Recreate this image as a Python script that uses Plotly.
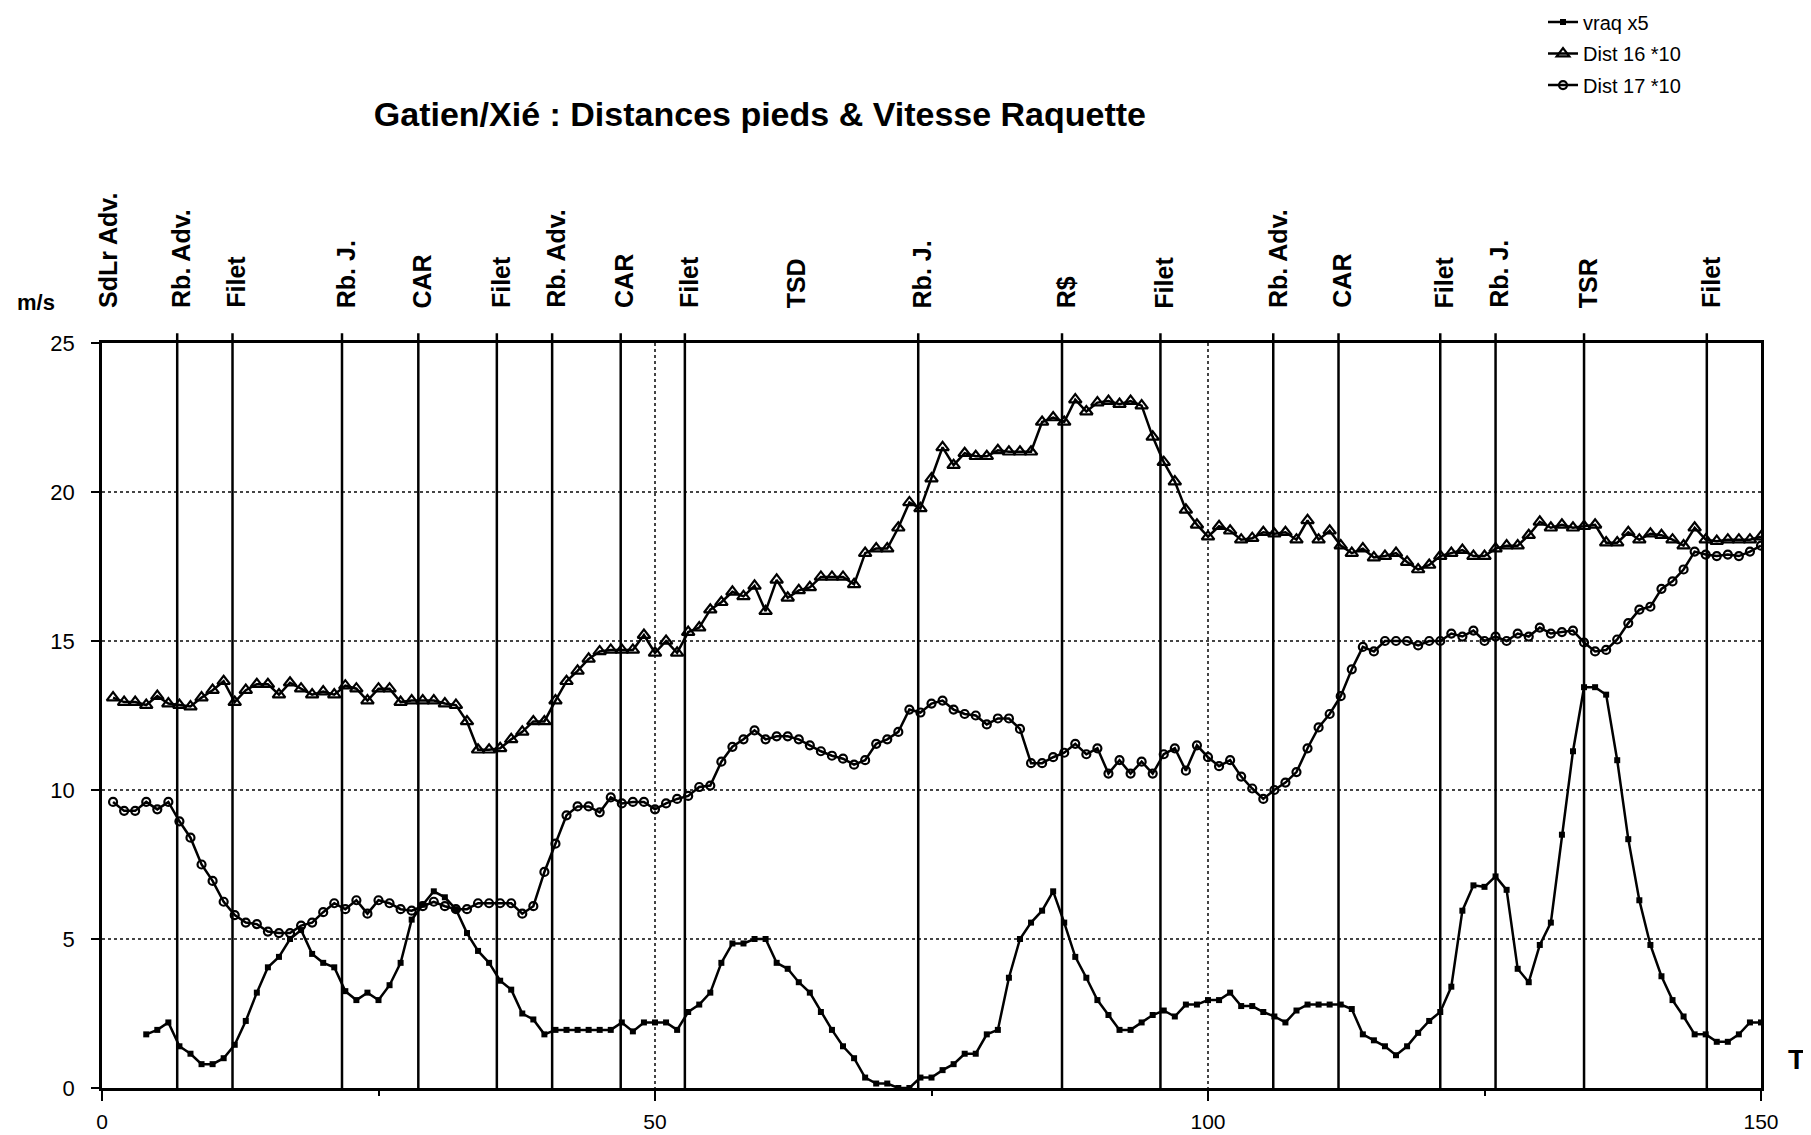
import plotly.graph_objects as go

# temps (abscisse)
t_dist = list(range(1, 151))
t_vraq = list(range(4, 151))

# vitesse raquette x5
vraq = [1.8, 1.95, 2.2, 1.4, 1.15, 0.8, 0.8, 1.0, 1.45, 2.25,
        3.2, 4.05, 4.4, 5.0, 5.3, 4.5, 4.2, 4.05, 3.25, 2.95,
        3.2, 2.95, 3.45, 4.2, 5.65, 6.15, 6.6, 6.4, 6.0, 5.2,
        4.6, 4.2, 3.6, 3.3, 2.5, 2.3, 1.8, 1.95, 1.95, 1.95,
        1.95, 1.95, 1.95, 2.2, 1.9, 2.2, 2.2, 2.2, 1.95, 2.55,
        2.8, 3.2, 4.2, 4.85, 4.85, 5.0, 5.0, 4.2, 4.0, 3.55,
        3.2, 2.55, 1.95, 1.4, 1.0, 0.35, 0.15, 0.15, 0.0, 0.0,
        0.35, 0.35, 0.6, 0.8, 1.15, 1.15, 1.8, 1.95, 3.7, 5.0,
        5.55, 5.95, 6.6, 5.55, 4.4, 3.7, 2.95, 2.45, 1.95, 1.95,
        2.2, 2.45, 2.6, 2.4, 2.8, 2.8, 2.95, 2.95, 3.2, 2.75,
        2.75, 2.55, 2.4, 2.2, 2.6, 2.8, 2.8, 2.8, 2.8, 2.65,
        1.8, 1.6, 1.4, 1.1, 1.4, 1.85, 2.25, 2.55, 3.4, 5.95,
        6.8, 6.75, 7.1, 6.65, 4.0, 3.55, 4.8, 5.55, 8.5, 11.3,
        13.45, 13.45, 13.2, 11.0, 8.35, 6.3, 4.8, 3.75, 2.95, 2.4,
        1.8, 1.8, 1.55, 1.55, 1.8, 2.2, 2.2]

# distance pieds 16 (x10)
dist16 = [13.1, 12.95, 12.95, 12.85, 13.15, 12.9, 12.85, 12.8, 13.1, 13.35,
          13.65, 12.95, 13.35, 13.55, 13.55, 13.2, 13.6, 13.4, 13.2, 13.3,
          13.2, 13.5, 13.4, 13.0, 13.4, 13.4, 12.95, 13.0, 13.0, 13.0,
          12.9, 12.85, 12.3, 11.35, 11.35, 11.4, 11.7, 11.95, 12.3, 12.3,
          13.0, 13.65, 14.0, 14.4, 14.65, 14.7, 14.7, 14.7, 15.2, 14.6,
          15.0, 14.6, 15.3, 15.45, 16.05, 16.3, 16.65, 16.5, 16.85, 16.0,
          17.05, 16.45, 16.7, 16.8, 17.15, 17.15, 17.15, 16.9, 17.95, 18.1,
          18.1, 18.8, 19.65, 19.45, 20.45, 21.5, 20.9, 21.3, 21.2, 21.2,
          21.4, 21.35, 21.35, 21.35, 22.35, 22.5, 22.35, 23.1, 22.7, 23.0,
          23.05, 22.95, 23.05, 22.9, 21.85, 21.0, 20.35, 19.4, 18.9, 18.5,
          18.85, 18.7, 18.4, 18.45, 18.65, 18.6, 18.65, 18.4, 19.05, 18.4,
          18.7, 18.2, 17.95, 18.1, 17.8, 17.85, 17.95, 17.65, 17.4, 17.55,
          17.85, 17.95, 18.05, 17.85, 17.85, 18.1, 18.2, 18.2, 18.55, 19.0,
          18.8, 18.9, 18.8, 18.85, 18.9, 18.3, 18.3, 18.65, 18.4, 18.6,
          18.55, 18.4, 18.2, 18.8, 18.4, 18.35, 18.4, 18.4, 18.4, 18.5]

# distance pieds 17 (x10)
dist17 = [9.6, 9.3, 9.3, 9.6, 9.35, 9.6, 8.95, 8.4, 7.5, 6.95,
          6.25, 5.8, 5.55, 5.5, 5.25, 5.2, 5.2, 5.45, 5.55, 5.9,
          6.2, 6.0, 6.3, 5.85, 6.3, 6.2, 6.0, 5.95, 6.1, 6.25,
          6.1, 6.0, 6.0, 6.2, 6.2, 6.2, 6.2, 5.85, 6.1, 7.25,
          8.2, 9.15, 9.45, 9.45, 9.25, 9.75, 9.55, 9.6, 9.6, 9.35,
          9.55, 9.7, 9.8, 10.1, 10.15, 10.95, 11.45, 11.7, 12.0, 11.7,
          11.8, 11.8, 11.7, 11.5, 11.3, 11.15, 11.05, 10.85, 11.0, 11.55,
          11.7, 11.95, 12.7, 12.6, 12.9, 13.0, 12.7, 12.55, 12.5, 12.2,
          12.4, 12.4, 12.05, 10.9, 10.9, 11.1, 11.25, 11.55, 11.2, 11.4,
          10.55, 11.0, 10.55, 10.95, 10.55, 11.2, 11.4, 10.65, 11.5, 11.1,
          10.8, 11.0, 10.45, 10.05, 9.7, 10.0, 10.25, 10.6, 11.4, 12.1,
          12.55, 13.15, 14.05, 14.8, 14.65, 15.0, 15.0, 15.0, 14.85, 15.0,
          15.0, 15.25, 15.15, 15.35, 15.0, 15.15, 15.0, 15.25, 15.15, 15.45,
          15.25, 15.3, 15.35, 14.95, 14.65, 14.7, 15.05, 15.6, 16.05, 16.15,
          16.75, 17.0, 17.4, 18.0, 17.9, 17.85, 17.9, 17.85, 18.0, 18.2]

# evenements (lignes verticales + etiquettes)
event_t = [6.8, 11.8, 21.7, 28.6, 35.7, 40.7, 46.9, 52.7, 73.8, 86.8,
           95.7, 105.9, 111.8, 121.0, 126.0, 134.0, 145.1]
event_labels = ["Rb. Adv.", "Filet", "Rb. J.", "CAR", "Filet", "Rb. Adv.", "CAR", "Filet",
                "Rb. J.", "R$", "Filet", "Rb. Adv.", "CAR", "Filet", "Rb. J.", "TSR", "Filet"]
# etiquettes sans ligne
extra_t = [0.2, 62.4]
extra_labels = ["SdLr Adv.", "TSD"]

FONT = "Liberation Sans, Arial, Helvetica, sans-serif"

fig = go.Figure()
fig.add_trace(go.Scatter(x=t_vraq, y=vraq, name="vraq x5", mode="lines+markers",
                         line=dict(color="black", width=2.5),
                         marker=dict(symbol="square", size=6, color="black"),
                         legendgroup="a"))
fig.add_trace(go.Scatter(x=t_dist, y=dist16, name="Dist 16 *10", mode="lines+markers",
                         line=dict(color="black", width=2.5),
                         marker=dict(symbol="triangle-up-open", size=11, color="black",
                                     line=dict(width=2.2, color="black")),
                         legendgroup="b"))
fig.add_trace(go.Scatter(x=t_dist, y=dist17, name="Dist 17 *10", mode="lines+markers",
                         line=dict(color="black", width=2.5),
                         marker=dict(symbol="circle-open", size=8, color="black",
                                     line=dict(width=2.2, color="black")),
                         legendgroup="c"))

for t in event_t:
    fig.add_shape(type="line", xref="x", yref="paper", x0=t, x1=t, y0=0, y1=1.013,
                  line=dict(color="black", width=2.5))

for t, lab in zip(event_t + extra_t, event_labels + extra_labels):
    fig.add_annotation(x=t, y=1.044, xref="x", yref="paper", text=lab, showarrow=False,
                       textangle=-90, xanchor="center", yanchor="bottom", xshift=4,
                       font=dict(family=FONT, size=25, color="black", weight="bold"))

fig.add_annotation(x=-0.040, y=1.054, xref="paper", yref="paper", text="m/s", showarrow=False,
                   xanchor="center", yanchor="middle",
                   font=dict(family=FONT, size=22, color="black", weight="bold"))
fig.add_annotation(x=1.0150, y=0.038, xref="paper", yref="paper", text="T", showarrow=False,
                   xanchor="left", yanchor="middle",
                   font=dict(family=FONT, size=28, color="black", weight="bold"))

fig.update_layout(
    width=1811, height=1135,
    margin=dict(l=94, r=58, t=335, b=55, autoexpand=False),
    paper_bgcolor="white", plot_bgcolor="white",
    font=dict(family=FONT, color="black"),
    title=dict(text="Gatien/Xié : Distances pieds & Vitesse Raquette",
               x=0.4152, xanchor="center", y=0.9066, yanchor="middle",
               font=dict(family=FONT, size=34, color="black", weight="bold")),
    legend=dict(x=0.8686, xanchor="left", y=1.457, yanchor="top",
                font=dict(family=FONT, size=20, color="black"),
                bgcolor="rgba(0,0,0,0)", tracegroupgap=2.5, traceorder="grouped"),
)
fig.update_xaxes(range=[0, 150], tickvals=[0, 50, 100, 150], ticks="outside", ticklen=10,
                 tickwidth=2, tickcolor="black", showline=True, linecolor="black", linewidth=2.5,
                 mirror=True, showgrid=True, gridcolor="#444", gridwidth=1.5, griddash="dot",
                 zeroline=False, tickfont=dict(size=21), ticklabelstandoff=3,
                 minor=dict(tickvals=[25, 75, 125], ticks="outside", ticklen=5, tickwidth=2,
                            tickcolor="black", showgrid=False))
fig.update_yaxes(range=[0, 25], tickvals=[0, 5, 10, 15, 20, 25], ticks="outside", ticklen=8,
                 tickwidth=2, tickcolor="black", showline=True, linecolor="black", linewidth=2.5,
                 mirror=True, showgrid=True, gridcolor="#444", gridwidth=1.5, griddash="dot",
                 zeroline=False, tickfont=dict(size=22), ticklabelstandoff=12)

fig.write_html("out.html")
